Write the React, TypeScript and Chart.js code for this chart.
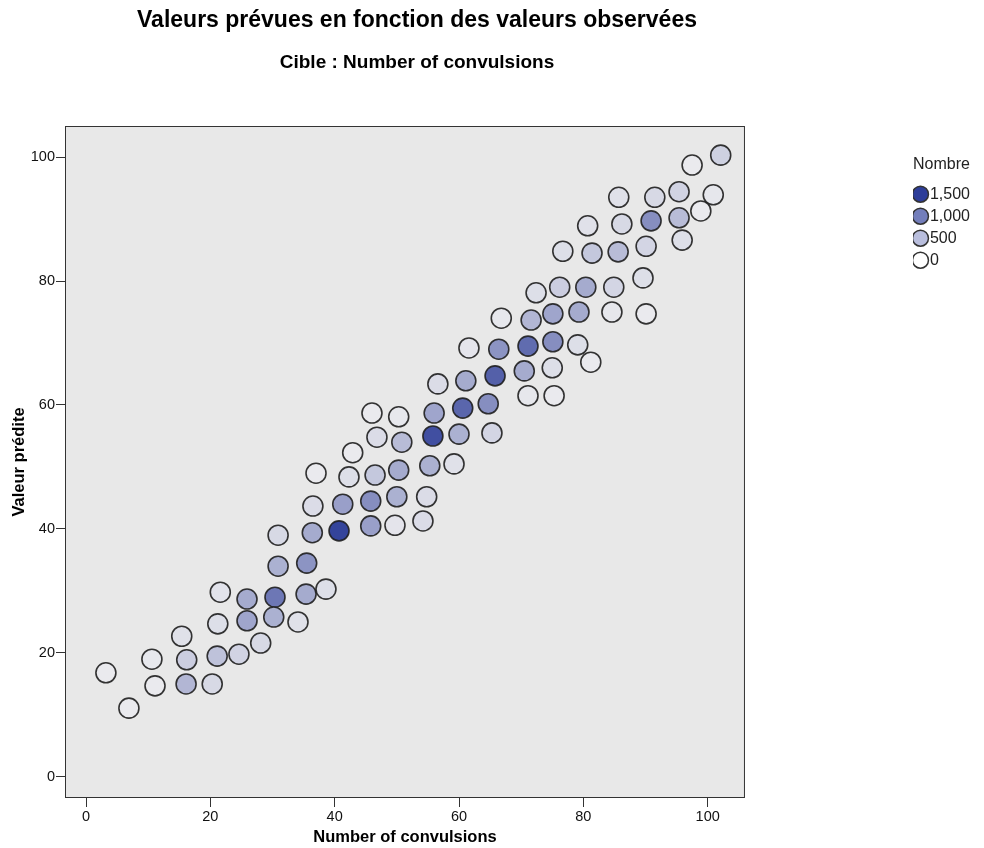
import React, { useEffect, useRef } from "react";
import { Chart, registerables } from "chart.js";

Chart.register(...registerables);

// ---- data ----
const observed = [
  3.2, 6.9, 10.6, 11.1, 15.4, 16.2, 16.1, 20.3, 21.2, 21.1,
  24.6, 28.1, 21.6, 25.9, 25.9, 30.4, 30.2, 34.1, 35.4, 38.6,
  30.9, 35.5, 30.9, 36.4, 40.7, 45.8, 49.7, 54.2, 36.5, 41.3,
  45.8, 50.0, 54.8, 37.0, 42.3, 46.5, 50.3, 55.3, 59.2, 42.9,
  46.8, 50.8, 55.8, 60.0, 65.3, 46.0, 50.3, 56.0, 60.6, 64.7,
  56.6, 61.1, 65.8, 70.5, 75.0, 71.1, 75.3, 61.6, 66.4, 71.1,
  75.1, 79.1, 81.2, 66.8, 71.6, 75.1, 79.3, 84.6, 90.1, 72.4,
  76.2, 80.4, 84.9, 89.6, 76.7, 81.4, 85.6, 90.1, 80.7, 86.2,
  90.9, 95.4, 95.9, 85.7, 91.5, 95.4, 100.9, 98.9, 97.5, 102.1,
];
const predicted = [
  16.8, 11.1, 19.0, 14.7, 22.7, 18.9, 15.0, 15.0, 24.7, 19.5,
  19.8, 21.6, 29.8, 28.7, 25.2, 29.0, 25.8, 25.0, 29.5, 30.3,
  34.0, 34.5, 39.0, 39.4, 39.7, 40.5, 40.6, 41.3, 43.7, 44.0,
  44.5, 45.2, 45.2, 49.0, 48.4, 48.7, 49.5, 50.2, 50.5, 52.3,
  54.8, 54.0, 55.0, 55.3, 55.5, 58.7, 58.1, 58.7, 59.5, 60.2,
  63.4, 63.9, 64.7, 65.5, 66.0, 61.5, 61.5, 69.2, 69.0, 69.5,
  70.2, 69.7, 66.9, 74.0, 73.7, 74.7, 75.0, 75.0, 74.7, 78.1,
  79.0, 79.0, 79.0, 80.5, 84.8, 84.5, 84.7, 85.6, 88.9, 89.2,
  89.7, 90.2, 86.6, 93.5, 93.5, 94.4, 93.9, 91.3, 98.7, 100.3,
];
const counts = [
  0, 0, 20, 0, 80, 250, 450, 150, 100, 350,
  200, 150, 60, 550, 600, 1000, 500, 80, 550, 100,
  500, 750, 150, 550, 1450, 650, 50, 120, 120, 650,
  800, 500, 120, 0, 100, 300, 550, 500, 80, 0,
  120, 400, 1350, 500, 180, 0, 20, 600, 1150, 800,
  120, 550, 1200, 550, 100, 30, 0, 40, 750, 1100,
  800, 100, 0, 30, 450, 600, 550, 30, 0, 100,
  250, 550, 180, 100, 100, 300, 400, 180, 80, 150,
  800, 400, 100, 80, 150, 200, 30, 0, 0, 220,
];
const tickValues = [0, 20, 40, 60, 80, 100];
const legendCounts = [1500, 1000, 500, 0];
const legendLabels = ["1,500", "1,000", "500", "0"];
const titleText = "Valeurs prévues en fonction des valeurs observées";
const subtitleText = "Cible : Number of convulsions";
const xTitle = "Number of convulsions";
const yTitle = "Valeur prédite";
const legendTitle = "Nombre";
const maxCount = 1500;

// ---- styling helpers ----
const FONT = "'Liberation Sans', Arial, Helvetica, sans-serif";
const NAVY = [45, 61, 153];
const mix = (a: number[], b: number[], t: number) =>
  `rgb(${a.map((v, i) => Math.round(v + (b[i] - v) * t)).join(",")})`;
const legendColor = (c: number) => mix([255, 255, 255], NAVY, Math.min(1, c / maxCount));
const pointColor = (c: number) => mix([234, 234, 238], [46, 62, 152], Math.min(1, c / maxCount));

const titlesPlugin = {
  id: "titles",
  afterDraw(chart: any) {
    const { ctx } = chart;
    ctx.save();
    ctx.fillStyle = "#000";
    ctx.textAlign = "center";
    ctx.textBaseline = "alphabetic";
    ctx.font = `bold 23px ${FONT}`;
    ctx.fillText(titleText, 417, 27);
    ctx.font = `bold 19px ${FONT}`;
    ctx.fillText(subtitleText, 417, 68);
    ctx.restore();
  },
};

const framePlugin = {
  id: "frame",
  beforeDatasetsDraw(chart: any) {
    const { ctx, chartArea } = chart;
    const { left, top, right, bottom } = chartArea;
    ctx.save();
    ctx.fillStyle = "#e8e8e8";
    ctx.fillRect(left, top, right - left, bottom - top);
    ctx.strokeStyle = "#333";
    ctx.lineWidth = 1;
    ctx.strokeRect(left - 0.5, top - 0.5, right - left + 1, bottom - top + 1);
    ctx.restore();
  },
};

export default function App() {
  const ref = useRef<HTMLCanvasElement | null>(null);

  useEffect(() => {
    if (!ref.current) return;
    const points = observed.map((x, i) => ({ x, y: predicted[i] }));
    const tickFont = { family: FONT, size: 14.5 };
    const titleFont = { family: FONT, size: 16.5, weight: "bold" as const };
    const chart = new Chart(ref.current, {
      type: "scatter",
      data: {
        datasets: [
          {
            label: "Nombre",
            data: points,
            pointRadius: 10,
            pointHoverRadius: 10,
            pointBorderWidth: 1.6,
            pointBorderColor: "rgba(30,30,30,0.9)",
            pointBackgroundColor: (ctx: any) => pointColor(counts[ctx.dataIndex] ?? 0),
          },
        ],
      },
      options: {
        animation: false,
        responsive: false,
        devicePixelRatio: 1,
        events: [],
        layout: { padding: { top: 127, right: 4, bottom: 0, left: 0 } },
        scales: {
          x: {
            type: "linear",
            min: -3.22,
            max: 105.84,
            afterBuildTicks: (s: any) => {
              s.ticks = tickValues.map((v) => ({ value: v }));
            },
            ticks: { font: tickFont, color: "#111", padding: 1 },
            grid: { display: true, drawOnChartArea: false, drawTicks: true, tickLength: 10, color: "#333" },
            border: { display: false },
            title: { display: true, text: xTitle, font: titleFont, color: "#000", padding: { top: 0, bottom: 1 } },
            afterFit: (s: any) => {
              s.height = 51;
            },
          },
          y: {
            type: "linear",
            min: -3.23,
            max: 104.84,
            afterBuildTicks: (s: any) => {
              s.ticks = tickValues.map((v) => ({ value: v }));
            },
            ticks: { font: tickFont, color: "#111", padding: 1 },
            grid: { display: true, drawOnChartArea: false, drawTicks: true, tickLength: 10, color: "#333" },
            border: { display: false },
            title: { display: true, text: yTitle, font: titleFont, color: "#000", padding: { top: 10, bottom: 2 } },
            afterFit: (s: any) => {
              s.width = 66;
            },
          },
          y2: {
            type: "linear",
            position: "right",
            display: true,
            min: 0,
            max: 1,
            ticks: { display: false },
            grid: { display: false },
            border: { display: false },
            afterFit: (s: any) => {
              s.width = 169;
            },
          },
        },
        plugins: {
          tooltip: { enabled: false },
          title: { display: false },
          legend: {
            display: true,
            position: "right",
            align: "start",
            title: {
              display: true,
              text: legendTitle,
              color: "#222",
              position: "start",
              font: { family: FONT, size: 16 },
              padding: { top: 30, bottom: 4 },
            },
            labels: {
              usePointStyle: true,
              pointStyle: "circle",
              boxWidth: 3,
              boxHeight: 11.3,
              padding: 6,
              color: "#222",
              font: { family: FONT, size: 16 },
              generateLabels: () =>
                legendCounts.map((c, i) => ({
                  text: legendLabels[i],
                  fillStyle: legendColor(c),
                  strokeStyle: "#333",
                  lineWidth: 1.5,
                  pointStyle: "circle",
                  hidden: false,
                  datasetIndex: 0,
                  fontColor: "#222",
                })),
            },
          },
        },
      },
      plugins: [framePlugin, titlesPlugin],
    } as any);
    return () => chart.destroy();
  }, []);

  return (
    <div style={{ position: "absolute", left: 0, top: 0, width: 984, height: 848, background: "#fff" }}>
      <canvas ref={ref} width={984} height={848} style={{ display: "block" }} />
    </div>
  );
}
